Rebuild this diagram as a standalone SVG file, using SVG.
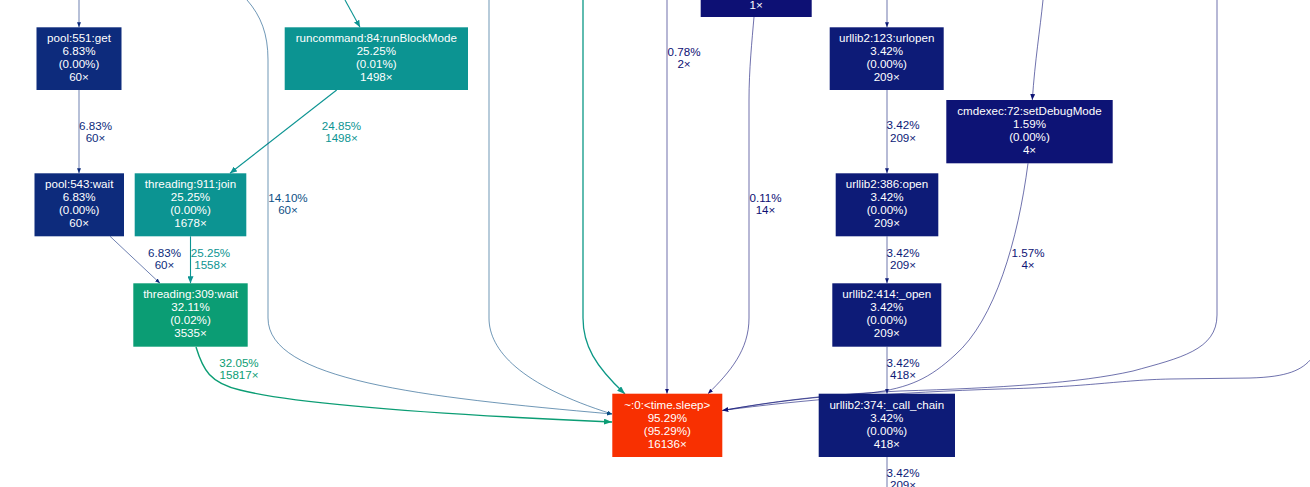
<svg xmlns="http://www.w3.org/2000/svg" width="1310" height="487" viewBox="0 0 1310 487">
<style>
text{font-family:"Liberation Sans",Arial,sans-serif;font-size:11.6px;text-anchor:middle}
.nt{fill:#ffffff}
.e{fill:none}
.pool{stroke:#0d2b7c;stroke-width:0.6}
.steel{stroke:#0d5085;stroke-width:0.6}
.teal{stroke:#0c9492;stroke-width:1.1}
.tealb{stroke:#0c9886;stroke-width:1.3}
.green{stroke:#0b9d74;stroke-width:1.4}
.navy{stroke:#0d1b77;stroke-width:0.6}
.navy2{stroke:#0d1375;stroke-width:0.6}
.navy3{stroke:#0d0f73;stroke-width:0.6}
.lpool{fill:#0d2b7c}.lsteel{fill:#0d5085}.lteal{fill:#0c9492}.lgreen{fill:#0b9d74}.lnavy{fill:#0d1b77}.lnavy2{fill:#0d1375}.lnavy3{fill:#0d0f73}
</style>
<defs>
<marker id="aPool" markerUnits="userSpaceOnUse" markerWidth="5" markerHeight="4" refX="5" refY="2" orient="auto"><path d="M0,0 L5,2 L0,4 z" fill="#0d2b7c"/></marker>
<marker id="aSteel" markerUnits="userSpaceOnUse" markerWidth="5" markerHeight="4" refX="5" refY="2" orient="auto"><path d="M0,0 L5,2 L0,4 z" fill="#0d5085"/></marker>
<marker id="aTeal" markerUnits="userSpaceOnUse" markerWidth="7" markerHeight="6" refX="7" refY="3" orient="auto"><path d="M0,0 L7,3 L0,6 z" fill="#0c9492"/></marker>
<marker id="aTealB" markerUnits="userSpaceOnUse" markerWidth="8" markerHeight="6" refX="8" refY="3" orient="auto"><path d="M0,0 L8,3 L0,6 z" fill="#0c9886"/></marker>
<marker id="aGreen" markerUnits="userSpaceOnUse" markerWidth="8" markerHeight="6" refX="8" refY="3" orient="auto"><path d="M0,0 L8,3 L0,6 z" fill="#0b9d74"/></marker>
<marker id="aNavy" markerUnits="userSpaceOnUse" markerWidth="5" markerHeight="4" refX="5" refY="2" orient="auto"><path d="M0,0 L5,2 L0,4 z" fill="#0d1b77"/></marker>
<marker id="aNavy2" markerUnits="userSpaceOnUse" markerWidth="6" markerHeight="5" refX="6" refY="2.5" orient="auto"><path d="M0,0 L6,2.5 L0,5 z" fill="#0d1375"/></marker>
<marker id="aNavy3" markerUnits="userSpaceOnUse" markerWidth="5" markerHeight="4" refX="5" refY="2" orient="auto"><path d="M0,0 L5,2 L0,4 z" fill="#0d0f73"/></marker>
</defs>

<g id="connectors">
  <path class="e pool" d="M79,0 L79,27.3" marker-end="url(#aPool)"/>
  <path class="e pool" d="M79,90 L79,173.3" marker-end="url(#aPool)"/>
  <text class="lpool" x="95.5" y="129.5">6.83%</text><text class="lpool" x="95.5" y="142">60×</text>
  <path class="e pool" d="M110,236.3 L160,283.3" marker-end="url(#aPool)"/>
  <text class="lpool" x="164.5" y="256.7">6.83%</text><text class="lpool" x="164.5" y="269">60×</text>
  <path class="e teal" d="M190.5,236.3 L190.5,283.3" marker-end="url(#aTeal)"/>
  <text class="lteal" x="210.5" y="256.7">25.25%</text><text class="lteal" x="210.5" y="269">1558×</text>
  <path class="e teal" d="M336.7,90 L230,173.3" marker-end="url(#aTeal)"/>
  <text class="lteal" x="341.5" y="129.5">24.85%</text><text class="lteal" x="341.5" y="142">1498×</text>
  <path class="e teal" d="M345,0 L360,27.3" marker-end="url(#aTeal)"/>
  <path class="e steel" d="M247,0 C261,16 268,34 268,60 L268,318 C268,380 420,397 612,414" marker-end="url(#aSteel)"/>
  <text class="lsteel" x="288" y="201.5">14.10%</text><text class="lsteel" x="288" y="214">60×</text>
  <path class="e steel" d="M489,0 L489,318 C489,350 520,385 612,414" marker-end="url(#aSteel)"/>
  <path class="e green" d="M196,347 C203,370 210,383 240,390 C300,405 450,415 612,422" marker-end="url(#aGreen)"/>
  <text class="lgreen" x="239" y="366.7">32.05%</text><text class="lgreen" x="239" y="379.3">15817×</text>
  <path class="e tealb" d="M583,0 L583,318 C583,345 595,366 625,394" marker-end="url(#aTealB)"/>
  <path class="e navy3" d="M667,0 L667,393.7" marker-end="url(#aNavy3)"/>
  <text class="lnavy3" x="684" y="55.7">0.78%</text><text class="lnavy3" x="684" y="68">2×</text>
  <path class="e navy3" d="M754,17 C752,40 749,70 749,100 L749,318 C749,350 730,372 708,393.7" marker-end="url(#aNavy3)"/>
  <text class="lnavy3" x="765.5" y="201.5">0.11%</text><text class="lnavy3" x="765.5" y="214">14×</text>
  <path class="e navy" d="M887,0 L887,27.3" marker-end="url(#aNavy)"/>
  <path class="e navy" d="M887,90 L887,173.3" marker-end="url(#aNavy)"/>
  <text class="lnavy" x="903" y="129.3">3.42%</text><text class="lnavy" x="903" y="141.7">209×</text>
  <path class="e navy" d="M887,236.3 L887,283.3" marker-end="url(#aNavy)"/>
  <text class="lnavy" x="903" y="256.7">3.42%</text><text class="lnavy" x="903" y="269">209×</text>
  <path class="e navy" d="M887,346.7 L887,393.7" marker-end="url(#aNavy)"/>
  <text class="lnavy" x="903" y="366.7">3.42%</text><text class="lnavy" x="903" y="379.3">418×</text>
  <path class="e navy" d="M887,457 L887,490"/>
  <text class="lnavy" x="903" y="476.7">3.42%</text><text class="lnavy" x="903" y="489">209×</text>
  <path class="e navy2" d="M1043,0 C1040,30 1035,60 1032.3,100" marker-end="url(#aNavy2)"/>
  <path class="e navy2" d="M1028,163.3 C1018,240 995,320 955,355 C930,378 910,388 870,393 C800,398 760,404 722.3,410.5" marker-end="url(#aNavy2)"/>
  <text class="lnavy2" x="1028" y="256.7">1.57%</text><text class="lnavy2" x="1028" y="269">4×</text>
  <path class="e navy2" d="M1217,0 L1217,315 C1217,350 1180,358 1133,371 C1080,383 1000,388 900,391 C820,395 770,402 722.3,410.5"/>
  <path class="e navy2" d="M1312,358 C1302,370 1288,377 1250,378 L1170,379 C1120,380 1090,387 1000,389 C900,392 800,400 722.3,410.5"/>
</g>

<g id="pool551"><rect x="36.5" y="27.3" width="85" height="62.7" fill="#0d2b7c"/>
<text class="nt" x="79" y="42.3">pool:551:get</text><text class="nt" x="79" y="55.3">6.83%</text><text class="nt" x="79" y="68.3">(0.00%)</text><text class="nt" x="79" y="81.3">60×</text></g>

<g id="pool543"><rect x="34.5" y="173.3" width="89.5" height="63" fill="#0d2b7c"/>
<text class="nt" x="79.2" y="188.3">pool:543:wait</text><text class="nt" x="79.2" y="201.3">6.83%</text><text class="nt" x="79.2" y="214.3">(0.00%)</text><text class="nt" x="79.2" y="227.3">60×</text></g>

<g id="join911"><rect x="134.7" y="173.3" width="111.6" height="63" fill="#0c9492"/>
<text class="nt" x="190.5" y="188.3">threading:911:join</text><text class="nt" x="190.5" y="201.3">25.25%</text><text class="nt" x="190.5" y="214.3">(0.00%)</text><text class="nt" x="190.5" y="227.3">1678×</text></g>

<g id="runcommand"><rect x="284.7" y="27.3" width="183.3" height="62.7" fill="#0c9492"/>
<text class="nt" x="376.3" y="42.3">runcommand:84:runBlockMode</text><text class="nt" x="376.3" y="55.3">25.25%</text><text class="nt" x="376.3" y="68.3">(0.01%)</text><text class="nt" x="376.3" y="81.3">1498×</text></g>

<g id="wait309"><rect x="133.3" y="283.3" width="114.4" height="63.4" fill="#0b9d74"/>
<text class="nt" x="190.5" y="298.3">threading:309:wait</text><text class="nt" x="190.5" y="311.3">32.11%</text><text class="nt" x="190.5" y="324.3">(0.02%)</text><text class="nt" x="190.5" y="337.3">3535×</text></g>

<g id="sleep"><rect x="612.3" y="393.7" width="110" height="63.3" fill="#f83001"/>
<text class="nt" x="667.3" y="408.5">~:0:&lt;time.sleep&gt;</text><text class="nt" x="667.3" y="421.7">95.29%</text><text class="nt" x="667.3" y="434.7">(95.29%)</text><text class="nt" x="667.3" y="447.7">16136×</text></g>

<g id="node1x"><rect x="700.7" y="-46" width="111" height="63" fill="#0d1074"/>
<text class="nt" x="756.2" y="8.7">1×</text></g>

<g id="urlopen"><rect x="829.7" y="27.3" width="114" height="62.7" fill="#0d1b77"/>
<text class="nt" x="886.7" y="42.3">urllib2:123:urlopen</text><text class="nt" x="886.7" y="55.3">3.42%</text><text class="nt" x="886.7" y="68.3">(0.00%)</text><text class="nt" x="886.7" y="81.3">209×</text></g>

<g id="cmdexec"><rect x="946.3" y="100" width="166.4" height="63.3" fill="#0d1375"/>
<text class="nt" x="1029.5" y="115">cmdexec:72:setDebugMode</text><text class="nt" x="1029.5" y="128">1.59%</text><text class="nt" x="1029.5" y="141">(0.00%)</text><text class="nt" x="1029.5" y="154">4×</text></g>

<g id="open386"><rect x="835.7" y="173.3" width="102.6" height="63" fill="#0d1b77"/>
<text class="nt" x="887" y="188.3">urllib2:386:open</text><text class="nt" x="887" y="201.3">3.42%</text><text class="nt" x="887" y="214.3">(0.00%)</text><text class="nt" x="887" y="227.3">209×</text></g>

<g id="open414"><rect x="832.3" y="283.3" width="109" height="63.4" fill="#0d1b77"/>
<text class="nt" x="886.8" y="298.3">urllib2:414:_open</text><text class="nt" x="886.8" y="311.3">3.42%</text><text class="nt" x="886.8" y="324.3">(0.00%)</text><text class="nt" x="886.8" y="337.3">209×</text></g>

<g id="callchain"><rect x="818.7" y="393.7" width="136.3" height="63.3" fill="#0d1b77"/>
<text class="nt" x="886.8" y="408.7">urllib2:374:_call_chain</text><text class="nt" x="886.8" y="421.7">3.42%</text><text class="nt" x="886.8" y="434.7">(0.00%)</text><text class="nt" x="886.8" y="447.7">418×</text></g>
</svg>
